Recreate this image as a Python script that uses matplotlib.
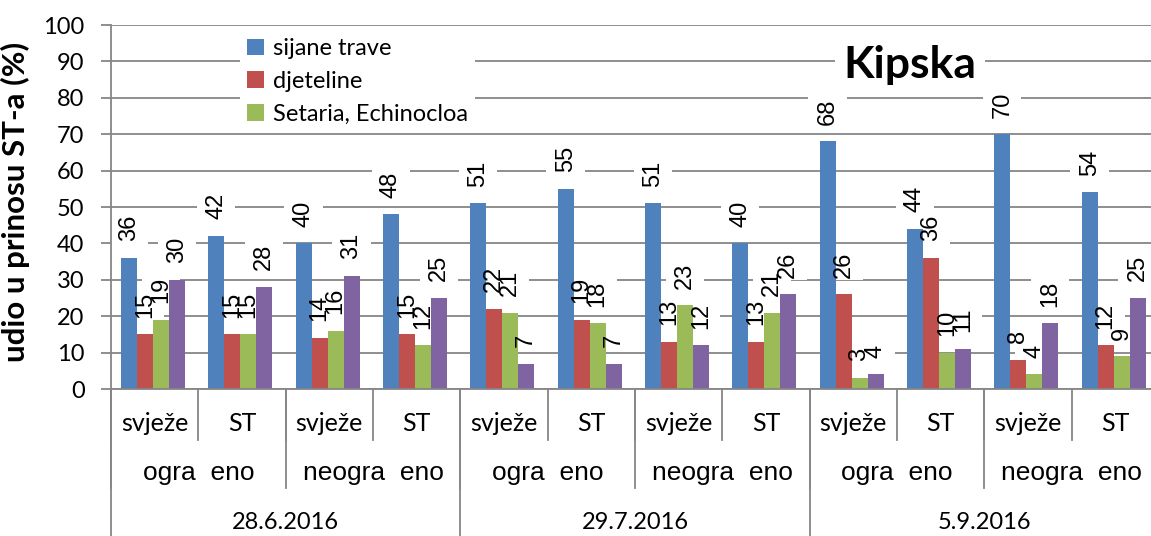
import matplotlib
matplotlib.use('Agg')
import matplotlib.pyplot as plt
from matplotlib.patches import Rectangle
import numpy as np

# data
series = ['sijane trave', 'djeteline', 'Setaria, Echinocloa']
blue = [36, 42, 40, 48, 51, 55, 51, 40, 68, 44, 70, 54]
red = [15, 15, 14, 15, 22, 19, 13, 13, 26, 36, 8, 12]
green = [19, 15, 16, 12, 21, 18, 23, 21, 3, 10, 4, 9]
purple = [30, 28, 31, 25, 7, 7, 12, 26, 4, 11, 18, 25]

lvl1 = ['svježe', 'ST'] * 6
lvl2 = ['ogra  eno', 'neogra  eno'] * 3
dates = ['28.6.2016', '29.7.2016', '5.9.2016']

colors = ['#4F81BD', '#C0504D', '#9BBB59', '#8064A2']
grid_c = '#868686'

plt.rcParams['font.family'] = ['Lato', 'DejaVu Sans']

fig = plt.figure(figsize=(11.51, 5.36), dpi=100)
ax = fig.add_axes([111/1151, 147/536, 1048/1151, 364/536])

px = 100 / 364.0   # data units per pixel on the y axis
x = np.arange(len(blue))
w = 0.183
bars = []
for i, vals in enumerate([blue, red, green, purple]):
    xs = x + (i - 1.5) * w - 0.02
    b = ax.bar(xs, vals, w, color=colors[i], zorder=2)
    bars.append(b)
    for xi, v in zip(xs, vals):
        s = str(v)
        # white label box: hides gridlines but sits under the bars
        ax.add_patch(Rectangle((xi - 0.22, v + 14 * px), 0.44,
                               (len(s) * 13 + 6) * px, fc='white', ec='none', zorder=1.5))
        ax.annotate(s, (xi, v), xytext=(0, 12), textcoords='offset points',
                    rotation=90, ha='center', va='bottom', fontsize=17,
                    family='Liberation Sans', color='black', zorder=6)

ax.set_xlim(-0.5, 11.5)
ax.set_ylim(0, 100)
ax.set_yticks(np.arange(0, 101, 10))
ax.yaxis.grid(True, color=grid_c, lw=1.3, zorder=0)
ax.set_axisbelow(True)
ax.tick_params(axis='y', length=7, width=1.3, color=grid_c, labelsize=17, pad=12)
ax.set_xticks([])
for s in ['top', 'right']:
    ax.spines[s].set_visible(False)
for s in ['left', 'bottom']:
    ax.spines[s].set_color(grid_c)
    ax.spines[s].set_linewidth(1.3)

ax.set_ylabel('udio u prinosu ST-a (%)', fontsize=22.5, fontweight='bold')
ax.yaxis.set_label_coords(-0.077, 0.515)

# multi-level category axis
tr = ax.get_xaxis_transform()
for b in np.arange(-0.5, 12, 1):
    ax.plot([b, b], [0, -0.14], color=grid_c, lw=1.3, transform=tr, clip_on=False)
for b in np.arange(-0.5, 12, 2):
    ax.plot([b, b], [0, -0.272], color=grid_c, lw=1.3, transform=tr, clip_on=False)
for b in np.arange(-0.5, 12, 4):
    ax.plot([b, b], [0, -0.45], color=grid_c, lw=1.3, transform=tr, clip_on=False)
for i, t in enumerate(lvl1):
    ax.text(i, -0.095, t, transform=tr, ha='center', va='center', fontsize=18)
for i, t in enumerate(lvl2):
    ax.text(2 * i + 0.5, -0.231, t, transform=tr, ha='center', va='center',
            fontsize=19, family='Liberation Sans')
for i, t in enumerate(dates):
    ax.text(4 * i + 1.5, -0.368, t, transform=tr, ha='center', va='center', fontsize=17)

ax.text(8.65, 89, 'Kipska', ha='center', va='center', fontsize=32, fontweight='bold',
        zorder=3, bbox=dict(boxstyle='square,pad=0.2', fc='white', ec='none'))

leg = ax.legend([b[0] for b in bars[:3]], series, loc='upper left',
                bbox_to_anchor=(240/1151, 1 - 31/536), bbox_transform=fig.transFigure,
                borderaxespad=0, fontsize=17, frameon=True, fancybox=False,
                facecolor='white', edgecolor='none', framealpha=1,
                handlelength=0.7, handleheight=0.7, handletextpad=0.4,
                labelspacing=0.5, borderpad=0.3)
leg.set_zorder(4)

fig.savefig('out.png', dpi=100)
